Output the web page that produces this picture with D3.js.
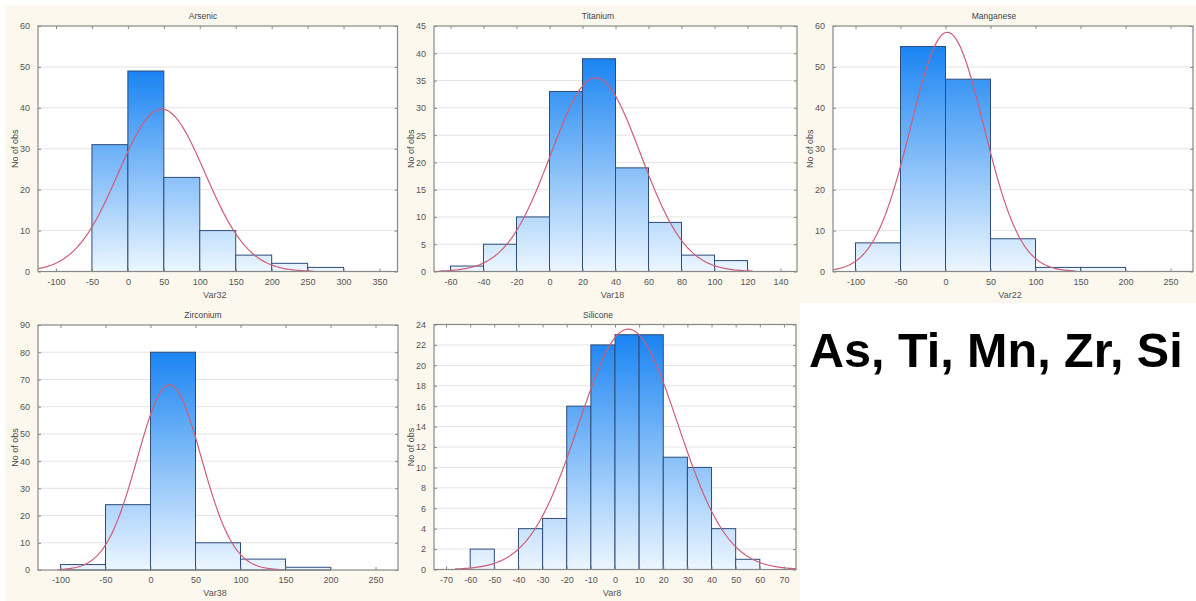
<!DOCTYPE html>
<html>
<head>
<meta charset="utf-8">
<script src="https://cdn.jsdelivr.net/npm/d3@7"></script>
<style>
  html, body { margin: 0; padding: 0; background: #ffffff; }
  svg { display: block; }
  text { font-family: "Liberation Sans", Arial, sans-serif; }
</style>
</head>
<body>
<svg id="chart" width="1196" height="601"></svg>
<script>
// Histogram counts per element, bins start at binStart and step by binWidth
const titles = ["Arsenic", "Titanium", "Manganese", "Zirconium", "Silicone"];
const xLabels = ["Var32", "Var18", "Var22", "Var38", "Var8"];
const arsenicCounts   = [31, 49, 23, 10, 4, 2, 1];
const titaniumCounts  = [1, 5, 10, 33, 39, 19, 9, 3, 2];
const manganeseCounts = [7, 55, 47, 8, 1, 1];
const zirconiumCounts = [2, 24, 80, 10, 4, 1];
const siliconeCounts  = [2, 0, 4, 5, 16, 22, 23, 23, 11, 10, 4, 1];
const binStart = [-50, -60, -100, -100, -60];
const binWidth = [50, 20, 50, 50, 10];

// Fitted normal parameters (mean, standard deviation)
const fitMean = [47, 28, 2, 21, 5.5];
const fitSd   = [60.3, 27.2, 40.6, 35.5, 20.5];

// Axis ticks
const xTicksArsenic   = [-100, -50, 0, 50, 100, 150, 200, 250, 300, 350];
const xTicksTitanium  = [-60, -40, -20, 0, 20, 40, 60, 80, 100, 120, 140];
const xTicksManganese = [-100, -50, 0, 50, 100, 150, 200, 250];
const xTicksZirconium = [-100, -50, 0, 50, 100, 150, 200, 250];
const xTicksSilicone  = [-70, -60, -50, -40, -30, -20, -10, 0, 10, 20, 30, 40, 50, 60, 70];
const yTicksArsenic   = [0, 10, 20, 30, 40, 50, 60];
const yTicksTitanium  = [0, 5, 10, 15, 20, 25, 30, 35, 40, 45];
const yTicksManganese = [0, 10, 20, 30, 40, 50, 60];
const yTicksZirconium = [0, 10, 20, 30, 40, 50, 60, 70, 80, 90];
const yTicksSilicone  = [0, 2, 4, 6, 8, 10, 12, 14, 16, 18, 20, 22, 24];
const xDomains = [[-125, 375], [-70, 150], [-125, 275], [-125, 275], [-75, 75]];

const summaryLabel = "As, Ti, Mn, Zr, Si";

const countsList = [arsenicCounts, titaniumCounts, manganeseCounts, zirconiumCounts, siliconeCounts];
const xTicksList = [xTicksArsenic, xTicksTitanium, xTicksManganese, xTicksZirconium, xTicksSilicone];
const yTicksList = [yTicksArsenic, yTicksTitanium, yTicksManganese, yTicksZirconium, yTicksSilicone];

// Plot frames on the page
const frames = [
  { left: 38,  right: 397.5, top: 26,    bottom: 271.5, panelX: 5 },
  { left: 434, right: 797,   top: 26,    bottom: 271.5, panelX: 400 },
  { left: 833, right: 1193,  top: 26,    bottom: 271.5, panelX: 796 },
  { left: 38,  right: 398,   top: 325,   bottom: 570,   panelX: 5 },
  { left: 434, right: 796,   top: 324.5, bottom: 569.5, panelX: 400 }
];

const svg = d3.select("#chart");
const defs = svg.append("defs");

// Cream backdrop behind the histograms, white corner for the label
svg.append("rect").attr("x", 0).attr("y", 0).attr("width", 1196).attr("height", 601).attr("fill", "#ffffff");
svg.append("path")
  .attr("d", "M5,5 H1196 V303 H800 V601 H5 Z")
  .attr("fill", "#fcf8ee");

const tickColor = "#888888";
const labelColor = "#555555";

countsList.forEach((counts, i) => {
  const f = frames[i];
  const yMax = d3.max(yTicksList[i]);
  const x = d3.scaleLinear().domain(xDomains[i]).range([f.left, f.right]);
  const y = d3.scaleLinear().domain([0, yMax]).range([f.bottom, f.top]);
  const g = svg.append("g");

  // Plot background
  g.append("rect")
    .attr("x", f.left).attr("y", f.top)
    .attr("width", f.right - f.left).attr("height", f.bottom - f.top)
    .attr("fill", "#ffffff");

  // Horizontal grid lines
  g.append("g").selectAll("line").data(yTicksList[i].filter(v => v > 0 && v < yMax)).join("line")
    .attr("x1", f.left).attr("x2", f.right)
    .attr("y1", d => y(d)).attr("y2", d => y(d))
    .attr("stroke", "#e4e4e4").attr("stroke-width", 1);

  // Vertical gradient: pale at the baseline, saturated at the tallest bar
  const gradId = "barGrad" + i;
  const grad = defs.append("linearGradient")
    .attr("id", gradId).attr("gradientUnits", "userSpaceOnUse")
    .attr("x1", 0).attr("x2", 0)
    .attr("y1", y(0)).attr("y2", y(d3.max(counts)));
  grad.append("stop").attr("offset", "0%").attr("stop-color", "#ecf6ff");
  grad.append("stop").attr("offset", "100%").attr("stop-color", "#1a84f2");

  const bins = counts.map((c, k) => ({ x0: binStart[i] + k * binWidth[i], x1: binStart[i] + (k + 1) * binWidth[i], n: c }));
  g.append("g").selectAll("rect").data(bins.filter(b => b.n > 0)).join("rect")
    .attr("x", d => x(d.x0)).attr("width", d => x(d.x1) - x(d.x0))
    .attr("y", d => y(d.n)).attr("height", d => y(0) - y(d.n))
    .attr("fill", `url(#${gradId})`)
    .attr("stroke", "#2d4c7a").attr("stroke-width", 1);

  // Fitted normal curve scaled to counts per bin
  const total = d3.sum(counts);
  const mu = fitMean[i], sd = fitSd[i], w = binWidth[i];
  const lo = Math.max(xDomains[i][0], mu - 3.5 * sd);
  const hi = Math.min(xDomains[i][1], mu + 3.5 * sd);
  const pts = d3.range(lo, hi + 1e-9, (hi - lo) / 200).map(v => [v, total * w * Math.exp(-0.5 * ((v - mu) / sd) ** 2) / (sd * Math.sqrt(2 * Math.PI))]);
  g.append("path")
    .datum(pts)
    .attr("d", d3.line().x(d => x(d[0])).y(d => y(d[1])).curve(d3.curveLinear))
    .attr("fill", "none").attr("stroke", "#cf5d78").attr("stroke-width", 1.2);

  // Frame
  g.append("rect")
    .attr("x", f.left).attr("y", f.top)
    .attr("width", f.right - f.left).attr("height", f.bottom - f.top)
    .attr("fill", "none").attr("stroke", tickColor).attr("stroke-width", 1.2);

  // Axes with inward ticks
  const axB = d3.axisBottom(x).tickValues(xTicksList[i]).tickSize(-3).tickPadding(7).tickFormat(d3.format("d"));
  const axT = d3.axisTop(x).tickValues(xTicksList[i]).tickSize(-3).tickFormat("");
  const axL = d3.axisLeft(y).tickValues(yTicksList[i]).tickSize(-3).tickPadding(8).tickFormat(d3.format("d"));
  const axR = d3.axisRight(y).tickValues(yTicksList[i]).tickSize(-3).tickFormat("");

  const styleAxis = sel => {
    sel.select(".domain").remove();
    sel.selectAll(".tick line").attr("stroke", tickColor);
    sel.selectAll(".tick text").attr("fill", labelColor).style("font-size", "9px")
      .style("font-family", "'Liberation Sans', Arial, sans-serif");
  };
  g.append("g").attr("transform", `translate(0,${f.bottom})`).call(axB).call(styleAxis);
  g.append("g").attr("transform", `translate(0,${f.top})`).call(axT).call(styleAxis);
  g.append("g").attr("transform", `translate(${f.left},0)`).call(axL).call(styleAxis);
  g.append("g").attr("transform", `translate(${f.right},0)`).call(axR).call(styleAxis);
  g.selectAll(".tick text").filter(function () { return this.textContent !== ""; })
    .text(function () { return this.textContent.replace("\u2212", "-"); });

  // Title, axis titles
  g.append("text")
    .attr("x", f.panelX + 198).attr("y", f.top - 7)
    .attr("text-anchor", "middle").attr("fill", "#444444")
    .style("font-size", "8.5px").text(titles[i]);
  g.append("text")
    .attr("x", (f.left + f.right) / 2 - 3).attr("y", f.bottom + 26)
    .attr("text-anchor", "middle").attr("fill", labelColor)
    .style("font-size", "9px").text(xLabels[i]);
  g.append("text")
    .attr("transform", `translate(${f.left - 20},${(f.top + f.bottom) / 2}) rotate(-90)`)
    .attr("text-anchor", "middle").attr("fill", "#444444")
    .style("font-size", "9px").text("No of obs");
});

// Element symbol summary
svg.append("text")
  .attr("x", 809).attr("y", 367)
  .attr("fill", "#000000")
  .style("font-size", "48.5px").style("font-weight", "bold")
  .style("font-family", "'Liberation Sans', Arial, sans-serif")
  .text(summaryLabel);
</script>
</body>
</html>
